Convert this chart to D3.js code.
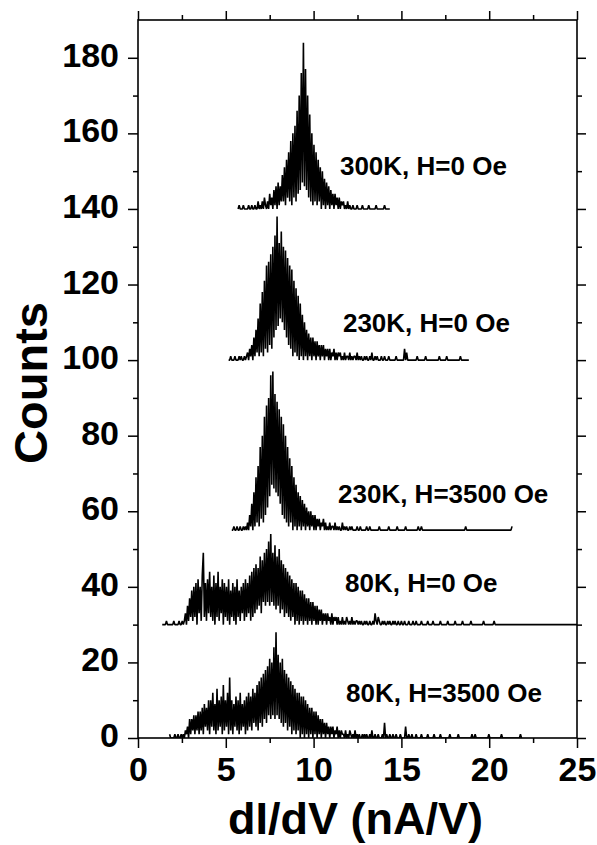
<!DOCTYPE html>
<html>
<head>
<meta charset="utf-8">
<script src="https://cdn.jsdelivr.net/npm/d3@7"></script>
<style>
    body { margin: 0; background: #fff; }
    svg { display: block; font-family: "Liberation Sans", Arial, sans-serif; font-weight: bold; }
</style>
</head>
<body>
<div id="svg-container"></div>
<script>
// ---- data: histogram counts per dI/dV bin (bin width 0.06 nA/V) ----
const binStep = 0.06;

const seriesNames = ['300K, H=0 Oe', '230K, H=0 Oe', '230K, H=3500 Oe', '80K, H=0 Oe', '80K, H=3500 Oe'];
const seriesOffsets = [140, 100, 55, 30, 0];      // vertical shift of each curve (counts)
const seriesStarts = [5.70, 5.16, 5.34, 1.38, 1.80]; // first bin (nA/V)

const counts300K = [
    0,1,0,0,0,1,0,0,0,0,1,0,0,1,0,0,1,0,0,2,0,1,
    0,2,0,3,1,0,2,0,
    4,1,3,0,5,1,6,0,
    7,1,6,2,9,
    2,11,1,13,3,
    15,2,18,1,20,
    3,22,2,
    26,4,30,5,
    36,7,44,
    6,37,5,
    30,3,25,2,
    20,1,17,2,15,
    1,13,2,11,0,
    10,1,8,0,7,
    1,6,0,5,1,4,0,
    4,1,3,0,3,0,2,1,
    2,0,1,0,2,0,1,
    0,0,1,0,0,0,1,0,0,0,0,1,0,0,0,0,0,1,0,0,0,0,0,0,1,0,0,0,0,0,0,0,1,0,0,0,0,0
];

const counts230K = [
    0,0,1,0,0,0,1,0,0,0,1,0,1,0,0,1,0,1,
    2,0,3,1,4,
    0,6,1,8,2,11,1,
    15,2,18,1,21,3,
    25,2,26,4,28,3,
    30,6,33,8,38,9,31,
    11,34,10,30,8,29,
    6,27,4,25,3,24,
    1,21,2,19,1,17,0,
    15,1,12,0,10,1,8,0,
    7,1,6,0,6,1,5,0,5,1,4,0,4,1,
    4,0,3,1,3,0,3,0,2,1,3,0,2,0,2,1,2,0,1,0,2,0,1,
    1,0,2,0,1,0,1,1,0,2,0,1,0,1,0,0,1,0,
    1,0,0,1,0,2,0,0,1,0,1,0,0,0,1,0,0,1,0,0,0,1,0,0,0,
    0,0,0,1,0,0,0,0,0,0,
    0,3,0,2,0,0,0,0,0,0,
    0,0,0,1,0,0,0,0,0,0,
    0,1,0,0,0,0,0,0,0,0,
    0,0,0,0,1,0,0,0,0,0,
    0,1,0,0,0,0,0,0,0,0,
    0,0,0,0,1,0,0,0,0,0,
    0,0,0
];

const counts230KField = [
    0,0,1,0,0,1,0,0,1,0,0,1,0,1,0,
    2,0,4,
    1,7,0,10,1,
    14,2,17,1,22,
    3,25,2,30,4,
    33,6,35,9,41,
    12,42,11,36,10,
    34,9,32,7,30,
    4,28,3,25,2,
    22,1,19,2,17,
    0,14,1,12,0,
    10,1,9,0,8,
    1,7,0,6,1,
    5,0,5,1,4,0,4,
    0,3,1,3,0,2,1,3,0,2,0,
    1,0,2,0,1,1,0,2,0,1,0,1,0,0,2,0,1,0,1,0,0,1,0,1,0,
    0,0,0,1,0,0,1,0,0,0,
    0,0,1,0,0,1,0,0,0,0,
    0,0,0,0,1,0,0,0,0,0,
    0,0,0,1,0,0,0,0,0,0,
    0,1,0,0,0,0,0,0,0,1,
    0,0,0,0,0,0,0,0,0,0,
    0,1,0,0,1,0,0,0,0,0,
    0,0,0,0,0,0,0,0,0,0,
    0,0,0,0,0,0,0,0,0,0,
    0,0,0,0,0,0,0,0,0,0,
    0,0,0,0,0,0,1,0,0,0,
    0,0,0,0,0,0,0,0,0,0,
    0,0,0,0,0,0,0,0,0,0,
    0,0,0,0,0,0,0,0,0,0,
    0,0,0,0,0,0,0,0,0,0,
    1
];

const counts80K = [
    0,0,0,0,1,0,0,0,0,0,0,1,0,0,0,0,1,0,0,1,0,
    1,3,0,5,1,7,2,9,
    1,10,2,11,0,12,3,10,1,13,
    19,2,11,1,12,3,14,2,10,1,
    13,0,11,2,14,1,10,3,12,0,
    11,2,10,1,12,0,9,2,11,1,
    10,0,12,2,9,1,10,3,11,1,
    12,2,11,3,13,1,14,2,15,3,
    16,4,15,5,18,3,17,6,19,5,
    20,6,22,5,24,6,19,5,21,4,
    18,5,20,3,17,4,16,2,15,3,
    14,2,13,1,12,2,11,0,11,1,
    10,0,9,1,9,0,8,1,7,0,
    7,1,6,0,6,1,5,0,5,0,
    4,1,4,0,3,1,3,0,3,1,
    2,0,3,0,2,1,2,0,2,0,
    1,0,2,0,1,0,2,1,0,1,
    0,2,0,1,0,1,1,0,1,0,
    1,0,0,1,0,1,0,0,1,0,
    0,1,0,3,1,0,2,1,0,0,
    1,0,1,0,0,1,0,1,0,0,
    1,0,1,0,0,1,0,0,1,0,
    0,1,0,0,0,1,0,0,0,1,
    0,0,1,0,0,0,0,1,0,0,
    0,0,0,1,0,0,0,0,1,0,
    0,0,0,0,0,1,0,0,0,0,
    0,0,1,0,0,0,0,0,0,1,
    0,0,0,0,0,0,1,0,0,0,
    0,0,0,0,1,0,0,0,0,0,
    0,0,0,0,0,0,1,0,0,0,
    0,0,0,0,0,0,1,0,0,0,
    0,0,0,0,0,0,0,0,0,0,
    0,0,0,0,0,0,0,0,0,0,
    0,0,0,0,0,0,0,0,0,0,
    0,0,0,0,0,0,0,0,0,0,
    0,0,0,0,0,0,0,0,0,0,
    0,0,0,0,0,0,0,0,0,0,
    0,0,0,0,0,0,0,0,0,0,
    0,0,0,0,0,0
];

const counts80KField = [
    1,0,0,0,0,1,0,0,1,0,0,1,
    0,1,0,2,1,3,0,5,
    1,5,2,6,1,6,2,7,
    1,7,2,8,1,9,3,8,2,10,
    1,10,3,12,2,9,1,13,2,10,
    3,11,1,14,2,10,3,12,1,16,
    2,10,1,9,3,11,2,10,1,12,
    2,9,3,10,1,11,2,12,3,11,
    2,13,4,12,3,14,2,15,4,16,
    3,17,5,18,4,19,6,21,5,20,
    6,24,5,28,6,22,5,20,4,21,
    3,18,4,17,2,16,3,15,1,14,
    2,13,1,12,2,12,0,11,1,11,
    0,10,1,9,0,8,1,8,0,7,
    1,7,0,6,1,5,0,5,1,4,
    0,4,1,3,0,3,1,3,0,2,
    1,3,0,2,0,2,1,1,0,2,
    0,1,0,2,1,0,1,0,2,0,
    1,0,1,0,0,1,0,1,0,1,
    0,0,1,0,2,0,0,1,0,0,
    1,0,0,0,1,0,4,0,1,0,
    0,1,0,0,1,0,0,1,0,0,
    0,1,0,0,0,0,3,0,0,1,
    0,0,1,0,0,0,1,0,0,0,
    0,1,0,0,0,0,0,1,0,0,
    0,0,0,1,0,0,0,0,0,1,
    0,0,0,0,0,0,0,0,1,0,
    0,0,0,0,0,0,1,0,0,0,
    0,0,0,0,0,0,0,0,0,1,
    0,0,1,0,0,0,0,0,0,0,
    0,0,0,0,0,1,0,0,0,0,
    0,0,0,0,0,0,0,1,0,0,
    0,0,0,0,0,0,0,0,0,0,
    0,0,0,0,0,1,0
];

const seriesCounts = [counts300K, counts230K, counts230KField, counts80K, counts80KField];

// axis ticks
const xTicks = [0, 5, 10, 15, 20, 25];
const xMinorTicks = [2.5, 7.5, 12.5, 17.5, 22.5];
const yTicks = [0, 20, 40, 60, 80, 100, 120, 140, 160, 180];
const yMinorTicks = [10, 30, 50, 70, 90, 110, 130, 150, 170];

// label anchors in data units [dI/dV, counts]
const labelAnchors = [[11.5, 149.0], [11.67, 107.4], [11.39, 62.2], [11.79, 38.6], [11.85, 9.5]];

// dimensions
const dim = {
    width: 597,
    height: 845,
    margin: { top: 20, right: 20, bottom: 107, left: 138 }
}
const innerW = dim.width - dim.margin.left - dim.margin.right;
const innerH = dim.height - dim.margin.top - dim.margin.bottom;

const svg = d3.select('#svg-container')
    .append('svg')
    .attr('width', dim.width)
    .attr('height', dim.height)

const g = svg.append('g')
    .attr('transform', `translate(${dim.margin.left}, ${dim.margin.top})`)

// scales
const xScale = d3.scaleLinear().domain([0, 25]).range([0, innerW]);
const yScale = d3.scaleLinear().domain([0, 190]).range([innerH, 0]);

g.append('clipPath').attr('id', 'plot-clip')
    .append('rect').attr('width', innerW).attr('height', innerH);

// curves
const curves = g.append('g').attr('clip-path', 'url(#plot-clip)');
seriesCounts.forEach((counts, k) => {
    const line = d3.line()
        .x((d, i) => xScale(seriesStarts[k] + i * binStep))
        .y(d => yScale(seriesOffsets[k] + d));
    curves.append('path')
        .datum(counts)
        .attr('d', line)
        .attr('fill', 'none')
        .attr('stroke', '#000')
        .attr('stroke-width', 1.6)
        .attr('stroke-linejoin', 'bevel');
});

// axes: major + minor ticks on all four sides
function addAxis(axis, transform, values, size, labels) {
    const a = g.append('g')
        .attr('transform', transform)
        .call(axis.tickValues(values).tickSize(size).tickSizeOuter(0).tickPadding(9)
            .tickFormat(labels ? d3.format('d') : ''));
    a.select('.domain').remove();
    a.selectAll('line').attr('stroke', '#000').attr('stroke-width', 1.5);
    a.selectAll('text').attr('font-size', 34).attr('fill', '#000')
        .attr('font-family', '"Liberation Sans", Arial, sans-serif').attr('font-weight', 'bold');
    return a;
}
addAxis(d3.axisBottom(xScale), `translate(0, ${innerH})`, xTicks, 10, true);
addAxis(d3.axisBottom(xScale), `translate(0, ${innerH})`, xMinorTicks, 5, false);
addAxis(d3.axisTop(xScale), 'translate(0, 0)', xTicks, 9, false);
addAxis(d3.axisTop(xScale), 'translate(0, 0)', xMinorTicks, 5, false);
const yAx = addAxis(d3.axisLeft(yScale), 'translate(0, 0)', yTicks, 10, true);
yAx.selectAll('text').attr('dy', '0.25em');
addAxis(d3.axisLeft(yScale), 'translate(0, 0)', yMinorTicks, 5, false);
addAxis(d3.axisRight(yScale), `translate(${innerW}, 0)`, yTicks, 9, false);
addAxis(d3.axisRight(yScale), `translate(${innerW}, 0)`, yMinorTicks, 5, false);

// frame
g.append('rect')
    .attr('width', innerW)
    .attr('height', innerH)
    .attr('fill', 'none')
    .attr('stroke', '#000')
    .attr('stroke-width', 1.6);

// series labels
g.selectAll('.series-label')
    .data(seriesNames)
    .join('text')
    .attr('class', 'series-label')
    .attr('x', (d, i) => xScale(labelAnchors[i][0]))
    .attr('y', (d, i) => yScale(labelAnchors[i][1]))
    .attr('font-size', 26)
    .text(d => d);

// axis titles
svg.append('text')
    .attr('x', dim.margin.left + innerW / 2 - 2)
    .attr('y', 834)
    .attr('text-anchor', 'middle')
    .attr('font-size', 45)
    .text('dI/dV (nA/V)');

svg.append('text')
    .attr('transform', 'translate(47, 383) rotate(-90)')
    .attr('text-anchor', 'middle')
    .attr('font-size', 47)
    .text('Counts');
</script>
</body>
</html>
